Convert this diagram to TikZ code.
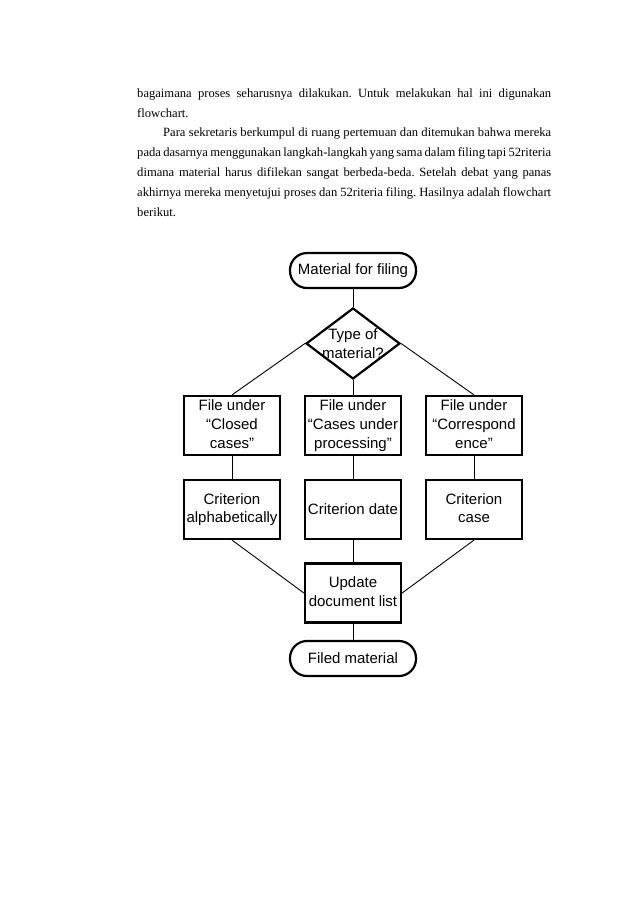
\documentclass[tikz,border=0pt]{standalone}
\usepackage{fontspec}
\setmainfont{Liberation Serif}
\newfontfamily\arialf{Liberation Sans}
\usetikzlibrary{shapes.geometric}
\frenchspacing
\begin{document}
\begin{tikzpicture}[x=1pt,y=-1pt,
  para/.style={anchor=base west, inner sep=0, font=\fontsize{12.6}{14}\selectfont},
  fc/.style={font=\arialf\fontsize{15}{18.7}\selectfont, align=center, inner sep=0,
    execute at begin node={\rule{0pt}{11.6pt}}, execute at end node={\rule[-2.6pt]{0pt}{2.6pt}}},
  term/.style={fc, draw, line width=2.2pt, rounded corners=17pt, minimum width=126pt, minimum height=35pt},
  box/.style={fc, draw, line width=2.2pt, minimum width=96pt, minimum height=59pt},
  dia/.style={draw, diamond, line width=2.2pt, minimum width=94pt, minimum height=71pt, inner sep=0},
  conn/.style={line width=0.9pt}]
\path[use as bounding box, fill=white] (0,0) rectangle (638,907);

% paragraph
\node[para] (l1) at (137,97.3) {\makebox[414pt][s]{bagaimana proses seharusnya dilakukan. Untuk melakukan hal ini digunakan}};
\node[para] (l2) at (137,117.1) {flowchart.};
\node[para] (l3) at (163,136.9) {\makebox[388pt][s]{Para sekretaris berkumpul di ruang pertemuan dan ditemukan bahwa mereka}};
\node[para] (l4) at (137,156.7) {\makebox[414pt][s]{pada dasarnya menggunakan langkah-langkah yang sama dalam filing tapi 52riteria}};
\node[para] (l5) at (137,176.5) {\makebox[414pt][s]{dimana material harus difilekan sangat berbeda-beda. Setelah debat yang panas}};
\node[para] (l6) at (137,196.3) {\makebox[414pt][s]{akhirnya mereka menyetujui proses dan 52riteria filing. Hasilnya adalah flowchart}};
\node[para] (l7) at (137,216.1) {berikut.};

% flowchart
\node[term] (t1) at (353,270.5) {Material for filing};
\node[dia] (d) at (353,343.5) {};
\node[fc] (dt) at (353,345) {Type of\\material?};
\node[box] (b1) at (232,425.5) {File under\\“Closed\\cases”};
\node[box] (b2) at (353,425.5) {File under\\“Cases under\\processing”};
\node[box] (b3) at (474,425.5) {File under\\“Correspond\\ence”};
\node[box] (c1) at (232,509.5) {Criterion\\alphabetically};
\node[box] (c2) at (353,509.5) {Criterion date};
\node[box] (c3) at (474,509.5) {Criterion\\case};
\node[box] (u) at (353,593) {Update\\document list};
\node[term] (t2) at (353,658.5) {Filed material};

\draw[conn] (t1) -- (d);
\draw[conn] (d.west) -- (b1.north);
\draw[conn] (d.south) -- (b2.north);
\draw[conn] (d.east) -- (b3.north);
\draw[conn] (b1) -- (c1);
\draw[conn] (b2) -- (c2);
\draw[conn] (b3) -- (c3);
\draw[conn] (c1.south) -- (u.west);
\draw[conn] (c2) -- (u);
\draw[conn] (c3.south) -- (u.east);
\draw[conn] (u) -- (t2);
\end{tikzpicture}
\end{document}
